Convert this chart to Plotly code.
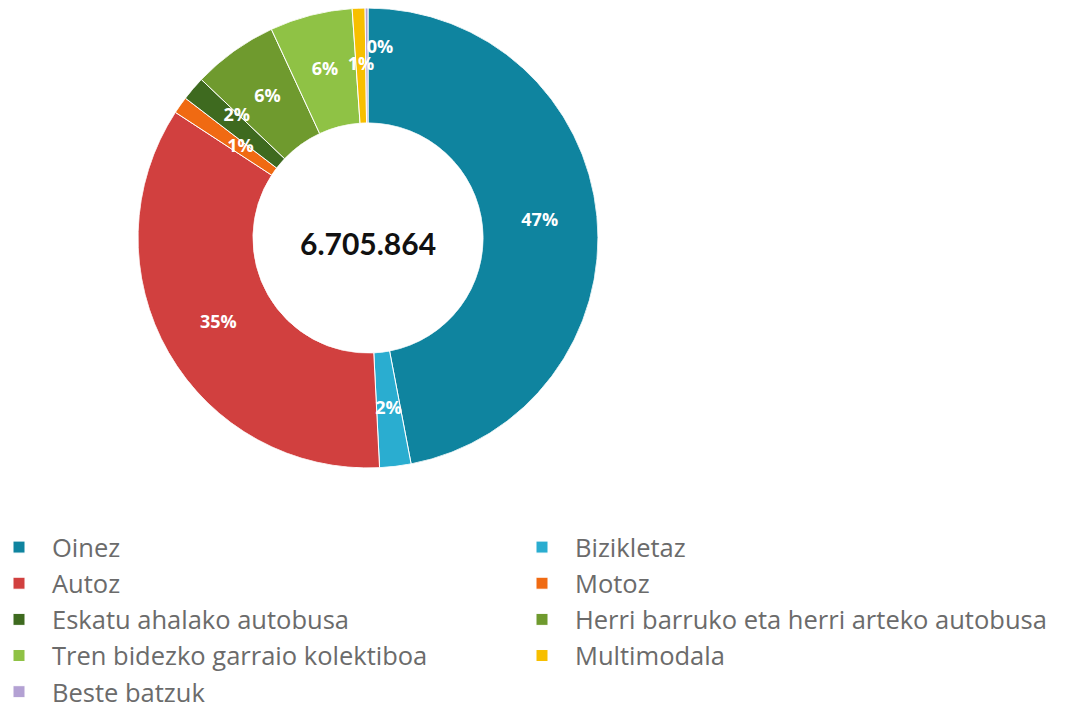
import plotly.graph_objects as go

labels = ["Oinez", "Bizikletaz", "Autoz", "Motoz", "Eskatu ahalako autobusa",
          "Herri barruko eta herri arteko autobusa", "Tren bidezko garraio kolektiboa",
          "Multimodala", "Beste batzuk"]
values = [47.0, 2.2, 35.0, 1.2, 1.7, 6.0, 5.8, 0.9, 0.2]
colors = ["#0f849f", "#2aadd0", "#d1403f", "#f06a12", "#3e6a1f",
          "#6f9a2e", "#8fc245", "#f7bf00", "#b3a1d3"]
legend_col = ["legend", "legend2", "legend", "legend2", "legend",
              "legend2", "legend", "legend2", "legend"]
label_pos = ["middle center", "middle center", "middle center", "bottom right",
             "top center", "middle center", "middle center", "middle center", "middle right"]
label_r = [0.5, 0.5, 0.5, 0.5, 0.5, 0.5, 0.5, 0.5, 0.65]
total_label = "6.705.864"

total = sum(values)
widths, mids, texts = [], [], []
cum = 0.0
for v in values:
    w = v / total * 360.0
    widths.append(w)
    mids.append(cum + w / 2)
    cum += w
    texts.append(f"{round(100 * v / total)}%")

fig = go.Figure()
for lab, w, m, c, lg in zip(labels, widths, mids, colors, legend_col):
    fig.add_trace(go.Barpolar(
        r=[1], theta=[m], width=[w], base=0, name=lab, legend=lg,
        marker=dict(color=c, line=dict(color="white", width=1)),
        hoverinfo="name",
    ))

fig.add_trace(go.Scatterpolar(
    r=label_r, theta=mids, mode="text", text=texts,
    textposition=label_pos,
    textfont=dict(family="Open Sans", size=18, color="white", weight="bold"),
    showlegend=False, hoverinfo="skip",
))

# plot area: svg y 0..500 (bottom margin 208)
PH = 500
fig.add_annotation(
    text="<b>" + total_label + "</b>", x=360/1068, y=(PH-235)/PH,
    xref="paper", yref="paper", xanchor="center", yanchor="middle",
    showarrow=False, font=dict(family="Lato", size=30, color="#111111"),
)

legend_style = dict(
    orientation="v",
    yanchor="top",
    itemwidth=56,
    font=dict(family="Open Sans", size=25.5, color="#6b6b6b"),
    traceorder="normal",
    bgcolor="rgba(0,0,0,0)",
    tracegroupgap=0,
)

fig.update_layout(
    width=1068, height=708,
    margin=dict(l=0, r=0, t=0, b=708-PH, autoexpand=False),
    paper_bgcolor="white",
    plot_bgcolor="white",
    polar=dict(
        domain=dict(x=[130/1068, 590/1068], y=[(PH-460)/PH, 1.0]),
        hole=0.5, bgcolor="rgba(0,0,0,0)", bargap=0,
        radialaxis=dict(visible=False, range=[0, 1]),
        angularaxis=dict(rotation=90, direction="clockwise", showline=False,
                         showgrid=False, showticklabels=False, ticks=""),
    ),
    showlegend=True,
    legend=dict(x=-22/1068, xanchor="left", y=(PH-516)/PH, **legend_style),
    legend2=dict(x=(567-66)/1068, xanchor="left", y=(PH-516)/PH, **legend_style),
)

fig.write_html("out.html")
